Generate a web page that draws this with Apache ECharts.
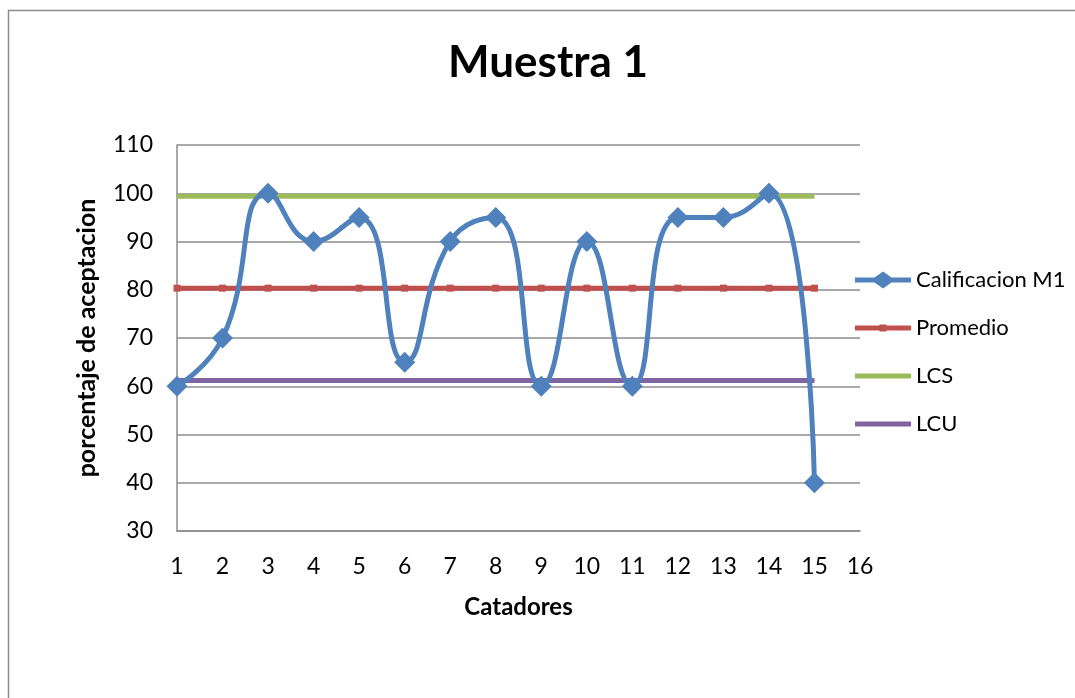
<!DOCTYPE html>
<html>
<head>
<meta charset="utf-8">
<script src="https://cdn.jsdelivr.net/npm/echarts@6/dist/echarts.min.js"></script>
<style>
  html, body { margin: 0; padding: 0; background: #fff; }
  #chart { width: 1075px; height: 698px; }
</style>
</head>
<body>
<div id="chart"></div>
<script>
var catadores = [1, 2, 3, 4, 5, 6, 7, 8, 9, 10, 11, 12, 13, 14, 15];
var calificacion = [60, 70, 100, 90, 95, 65, 90, 95, 60, 90, 60, 95, 95, 100, 40];
var promedio = [80.33, 80.33, 80.33, 80.33, 80.33, 80.33, 80.33, 80.33, 80.33, 80.33, 80.33, 80.33, 80.33, 80.33, 80.33];
var lcs = [99.4, 99.4, 99.4, 99.4, 99.4, 99.4, 99.4, 99.4, 99.4, 99.4, 99.4, 99.4, 99.4, 99.4, 99.4];
var lcu = [61.2, 61.2, 61.2, 61.2, 61.2, 61.2, 61.2, 61.2, 61.2, 61.2, 61.2, 61.2, 61.2, 61.2, 61.2];

function pares(ys) {
  return catadores.map(function (x, i) { return [x, ys[i]]; });
}

// iconos de leyenda estilo Excel (linea gruesa con marcador)
var iconoDiamante = 'path://M0,6L19.5,6L28,0L36.5,6L56,6L56,11L36.5,11L28,17L19.5,11L0,11Z';
var iconoCuadro = 'path://M0,0M56,17M0,6L24.5,6L24.5,5L31.5,5L31.5,6L56,6L56,11L31.5,11L31.5,12L24.5,12L24.5,11L0,11Z';
var iconoLinea = 'path://M0,0M56,17M0,6L56,6L56,11L0,11Z';

var fuente = 'Lato, "Noto Sans", sans-serif';
var chartDom = document.getElementById('chart');
var myChart = echarts.init(chartDom);
var option;

option = {
  animation: false,
  textStyle: { fontFamily: fuente },
  graphic: [{
    type: 'rect',
    shape: { x: 8.5, y: 10.5, width: 1100, height: 720 },
    style: { fill: 'none', stroke: '#8c8c8c', lineWidth: 1.5 },
    silent: true
  }],
  title: {
    text: 'Muestra 1',
    left: 543,
    textAlign: 'center',
    top: 36,
    textStyle: { fontFamily: fuente, fontSize: 44, fontWeight: 'bold', color: '#000' }
  },
  legend: {
    orient: 'vertical',
    left: 850,
    top: 264,
    itemWidth: 56,
    itemHeight: 17,
    itemGap: 26,
    textStyle: { fontFamily: fuente, fontSize: 22, color: '#000' },
    data: [
      { name: 'Calificacion M1', icon: iconoDiamante },
      { name: 'Promedio', icon: iconoCuadro },
      { name: 'LCS', icon: iconoLinea },
      { name: 'LCU', icon: iconoLinea }
    ]
  },
  grid: { left: 177, top: 145, width: 683, height: 386, containLabel: false },
  xAxis: {
    type: 'value',
    min: 1,
    max: 16,
    interval: 1,
    name: 'Catadores',
    nameLocation: 'middle',
    nameGap: 64,
    nameTextStyle: { fontFamily: fuente, fontSize: 24, fontWeight: 'bold', color: '#000' },
    axisLine: { show: true, lineStyle: { color: '#8c8c8c', width: 1.5 } },
    axisTick: { show: false },
    axisLabel: { fontSize: 23, color: '#000', margin: 24 },
    splitLine: { show: false }
  },
  yAxis: {
    type: 'value',
    min: 30,
    max: 110,
    interval: 10,
    name: 'porcentaje de aceptacion',
    nameLocation: 'middle',
    nameGap: 78,
    nameTextStyle: { fontFamily: fuente, fontSize: 25, fontWeight: 'bold', color: '#000' },
    axisLine: { show: true, lineStyle: { color: '#8c8c8c', width: 1.5 } },
    axisTick: { show: false },
    axisLabel: { fontSize: 23, color: '#000', margin: 24 },
    splitLine: { show: true, lineStyle: { color: '#8c8c8c', width: 1.5 } }
  },
  series: [
    {
      name: 'Calificacion M1',
      type: 'line',
      data: pares(calificacion),
      smooth: 0.5,
      symbol: 'diamond',
      symbolSize: 21,
      lineStyle: { color: '#4F81BD', width: 5 },
      itemStyle: { color: '#4F81BD' },
      z: 5
    },
    {
      name: 'Promedio',
      type: 'line',
      data: pares(promedio),
      symbol: 'rect',
      symbolSize: 7,
      lineStyle: { color: '#C0504D', width: 5 },
      itemStyle: { color: '#C0504D' },
      z: 3
    },
    {
      name: 'LCS',
      type: 'line',
      data: pares(lcs),
      symbol: 'none',
      lineStyle: { color: '#9BBB59', width: 5 },
      itemStyle: { color: '#9BBB59' },
      z: 3
    },
    {
      name: 'LCU',
      type: 'line',
      data: pares(lcu),
      symbol: 'none',
      lineStyle: { color: '#8064A2', width: 5 },
      itemStyle: { color: '#8064A2' },
      z: 3
    }
  ]
};
option && myChart.setOption(option);
</script>
</body>
</html>
